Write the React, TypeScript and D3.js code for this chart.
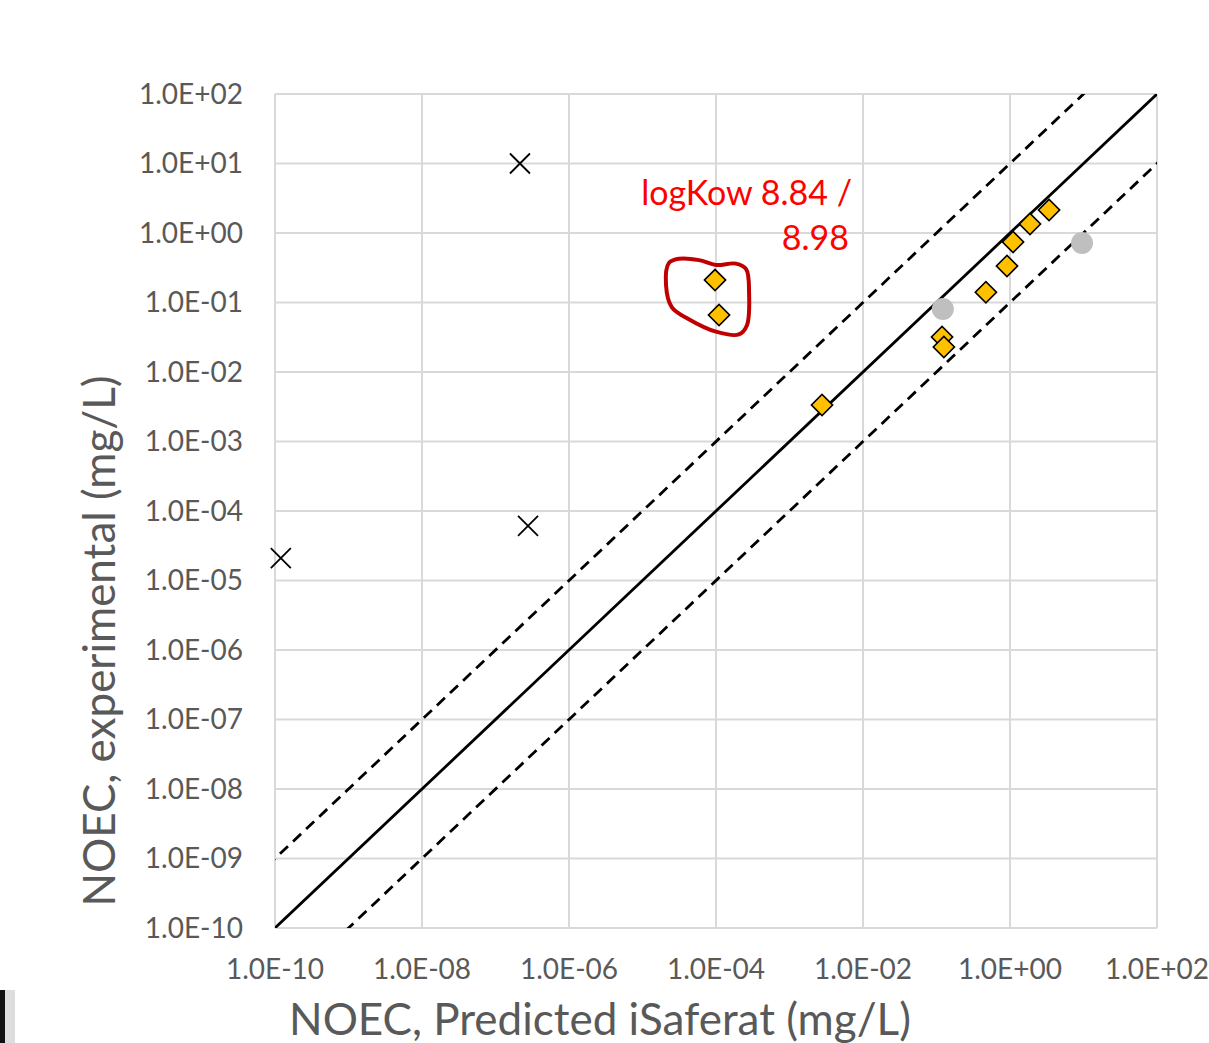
import { useMemo } from 'react'
import * as d3 from 'd3'

const width = 1209
const height = 1043
const margin = { top: 94, right: 52, bottom: 115, left: 275 }

const xTicks = [1e-10, 1e-8, 1e-6, 1e-4, 1e-2, 1e0, 1e2]
const yTicks = [1e-10, 1e-9, 1e-8, 1e-7, 1e-6, 1e-5, 1e-4, 1e-3, 1e-2, 1e-1, 1e0, 1e1, 1e2]

// [predicted, experimental]
const crossPoints = [
    [2.15e-7, 1.0e1],
    [2.77e-7, 6.1e-5],
    [1.2e-10, 2.1e-5]
]
const diamondPoints = [
    [9.7e-5, 0.21],
    [1.1e-4, 0.066],
    [2.77e-3, 3.35e-3],
    [3.4, 2.14],
    [1.87, 1.35],
    [1.1, 0.74],
    [0.91, 0.335],
    [0.47, 0.14],
    [0.119, 0.0319],
    [0.126, 0.0229]
]
const greyPoints = [
    [0.122, 0.0805],
    [9.55, 0.72]
]
// reference lines: factor over 1:1
const refLines = [
    { factor: 1, dashed: false },
    { factor: 10, dashed: true },
    { factor: 0.1, dashed: true }
]
// hand drawn ring around the two points (log10 coordinates)
const ringPath = [
    [-4.64, -0.43], [-4.5, -0.37], [-4.23, -0.39], [-4.0, -0.46], [-3.73, -0.44],
    [-3.59, -0.52], [-3.55, -0.86], [-3.58, -1.33], [-3.69, -1.46], [-4.0, -1.42],
    [-4.37, -1.24], [-4.6, -1.07], [-4.68, -0.75]
]
const fmt = (v: number) => {
    const e = Math.round(Math.log10(v))
    return `1.0E${e < 0 ? '-' : '+'}${String(Math.abs(e)).padStart(2, '0')}`
}

export default function App() {
    const iw = width - margin.left - margin.right
    const ih = height - margin.top - margin.bottom
    const x = useMemo(() => d3.scaleLog().domain([1e-10, 1e2]).range([0, iw]), [iw])
    const y = useMemo(() => d3.scaleLog().domain([1e-10, 1e2]).range([ih, 0]), [ih])
    const ring = d3.line().curve(d3.curveCatmullRomClosed)(
        ringPath.map(([a, b]) => [x(10 ** a), y(10 ** b)])
    )
    const font = 'Lato, "Open Sans", sans-serif'
    return (
        <svg width={width} height={height} style={{ position: 'absolute', left: 0, top: 0 }}>
            <rect width={width} height={height} fill="#fff" />
            <rect x={0} y={990} width={5} height={53} fill="#111" />
            <rect x={5} y={990} width={10} height={53} fill="#ddd" />
            <defs>
                <clipPath id="plot">
                    <rect width={iw} height={ih} />
                </clipPath>
            </defs>
            <g transform={`translate(${margin.left},${margin.top})`}>
                {yTicks.map((t) => (
                    <line key={'y' + t} x1={0} x2={iw} y1={y(t)} y2={y(t)} stroke="#d9d9d9" strokeWidth={2} />
                ))}
                {xTicks.map((t) => (
                    <line key={'x' + t} x1={x(t)} x2={x(t)} y1={0} y2={ih} stroke="#d9d9d9" strokeWidth={2} />
                ))}
                {yTicks.map((t) => (
                    <text key={'yl' + t} x={-32} y={y(t)} dy="0.35em" textAnchor="end" fontSize={28} fill="#595959" fontFamily={font}>
                        {fmt(t)}
                    </text>
                ))}
                {xTicks.map((t) => (
                    <text key={'xl' + t} x={x(t)} y={ih + 51} textAnchor="middle" fontSize={28} fill="#595959" fontFamily={font}>
                        {fmt(t)}
                    </text>
                ))}
                <g clipPath="url(#plot)">
                    {refLines.map((l) => (
                        <line
                            key={l.factor}
                            x1={x(1e-11)}
                            y1={y(1e-11 * l.factor)}
                            x2={x(1e3)}
                            y2={y(1e3 * l.factor)}
                            stroke="#000"
                            strokeWidth={2.8}
                            strokeDasharray={l.dashed ? '11,7' : undefined}
                        />
                    ))}
                </g>
                {greyPoints.map(([a, b], i) => (
                    <circle key={'g' + i} cx={x(a)} cy={y(b)} r={11} fill="#bfbfbf" />
                ))}
                {diamondPoints.map(([a, b], i) => (
                    <rect
                        key={'d' + i}
                        x={-7.5}
                        y={-7.5}
                        width={15}
                        height={15}
                        transform={`translate(${x(a)},${y(b)}) rotate(45)`}
                        fill="#ffc000"
                        stroke="#000"
                        strokeWidth={1.6}
                    />
                ))}
                {crossPoints.map(([a, b], i) => (
                    <path
                        key={'c' + i}
                        d="M-10,-10L10,10M-10,10L10,-10"
                        transform={`translate(${x(a)},${y(b)})`}
                        stroke="#000"
                        strokeWidth={1.8}
                        fill="none"
                    />
                ))}
                <path d={ring ?? ''} fill="none" stroke="#c00000" strokeWidth={4} />
                <text x={577} y={111} textAnchor="end" fontSize={34} fill="#ff0000" fontFamily={font}>
                    logKow 8.84 /
                </text>
                <text x={574} y={156} textAnchor="end" fontSize={34} fill="#ff0000" fontFamily={font}>
                    8.98
                </text>
            </g>
            <text
                transform="translate(115,641) rotate(-90)"
                textAnchor="middle"
                fontSize={44}
                fill="#595959"
                fontFamily={font}
            >
                NOEC, experimental (mg/L)
            </text>
            <text x={600} y={1035} textAnchor="middle" fontSize={44} fill="#595959" fontFamily={font}>
                NOEC, Predicted iSaferat (mg/L)
            </text>
        </svg>
    )
}
